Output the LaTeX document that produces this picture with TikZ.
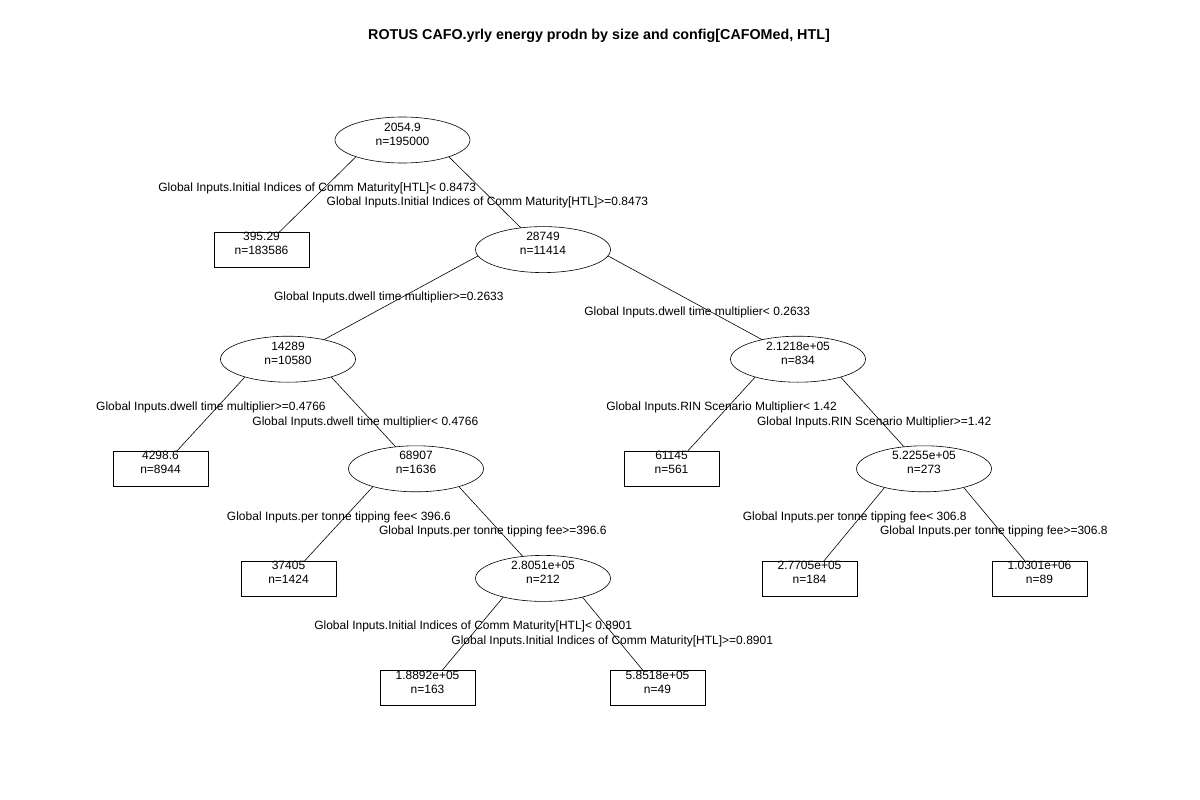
\documentclass[tikz,border=0pt]{standalone}
\usepackage{fontspec}
\setmainfont{Liberation Sans}
\usetikzlibrary{shapes.geometric,backgrounds,intersections}
\tikzset{
  ell/.style={draw, ellipse, minimum width=135pt, minimum height=46pt, inner sep=0pt, fill=white, line width=0.6pt},
  leaf/.style={draw, rectangle, minimum width=95pt, minimum height=35pt, inner sep=0pt, fill=white, line width=0.6pt},
  txt/.style={anchor=base, inner sep=0pt, font=\fontsize{12}{14}\selectfont},
  edge/.style={draw, line width=0.6pt},
  lblup/.style={anchor=base, inner sep=0pt, yshift=3.5pt, font=\fontsize{12}{14}\selectfont},
  lbldn/.style={anchor=base, inner sep=0pt, yshift=-11pt, font=\fontsize{12}{14}\selectfont},
}
\newcommand{\twol}[2]{\begin{tabular}[t]{@{}c@{}}#1\\#2\end{tabular}}
% parent, child, label text, label style
\newcommand{\treeedge}[4]{%
  \path[name path=ln] ([yshift=29pt]#1.center) -- (#2.center) node[pos=0.6046, #4] {#3};
  \draw[edge, name intersections={of=ln and P#1, sort by=ln, name=ix}] (ix-2) -- (#2.center);
}
\begin{document}
\begin{tikzpicture}[x=1pt, y=-1pt]
\useasboundingbox (0,0) rectangle (1200,800);
\node[anchor=base, inner sep=0pt, font=\fontsize{14.3}{16}\selectfont\bfseries] (title) at (599,39.5) {ROTUS CAFO.yrly energy prodn by size and config[CAFOMed, HTL]};

\node[ell, name path=Pn1]  (n1)  at (402.5,140) {};
\node[leaf] (n2)  at (261.5,249.6) {};
\node[ell, name path=Pn3]  (n3)  at (543,249.6) {};
\node[ell, name path=Pn4]  (n4)  at (288,359.2) {};
\node[ell, name path=Pn5]  (n5)  at (798,359.2) {};
\node[leaf] (n6)  at (160.5,468.8) {};
\node[ell, name path=Pn7]  (n7)  at (416,468.8) {};
\node[leaf] (n8)  at (671.5,468.8) {};
\node[ell, name path=Pn9]  (n9)  at (924,468.8) {};
\node[leaf] (n10) at (288.5,578.4) {};
\node[ell, name path=Pn11] (n11) at (543,578.4) {};
\node[leaf] (n12) at (809.5,578.4) {};
\node[leaf] (n13) at (1039.5,578.4) {};
\node[leaf] (n14) at (427.5,688) {};
\node[leaf] (n15) at (657.5,688) {};

\node[txt] (t1)  at ([yshift=9pt]n1.center)  {\twol{2054.9}{n=195000}};
\node[txt] (t2)  at ([yshift=9pt]n2.center)  {\twol{395.29}{n=183586}};
\node[txt] (t3)  at ([yshift=9pt]n3.center)  {\twol{28749}{n=11414}};
\node[txt] (t4)  at ([yshift=9pt]n4.center)  {\twol{14289}{n=10580}};
\node[txt] (t5)  at ([yshift=9pt]n5.center)  {\twol{2.1218e+05}{n=834}};
\node[txt] (t6)  at ([yshift=9pt]n6.center)  {\twol{4298.6}{n=8944}};
\node[txt] (t7)  at ([yshift=9pt]n7.center)  {\twol{68907}{n=1636}};
\node[txt] (t8)  at ([yshift=9pt]n8.center)  {\twol{61145}{n=561}};
\node[txt] (t9)  at ([yshift=9pt]n9.center)  {\twol{5.2255e+05}{n=273}};
\node[txt] (t10) at ([yshift=9pt]n10.center) {\twol{37405}{n=1424}};
\node[txt] (t11) at ([yshift=9pt]n11.center) {\twol{2.8051e+05}{n=212}};
\node[txt] (t12) at ([yshift=9pt]n12.center) {\twol{2.7705e+05}{n=184}};
\node[txt] (t13) at ([yshift=9pt]n13.center) {\twol{1.0301e+06}{n=89}};
\node[txt] (t14) at ([yshift=9pt]n14.center) {\twol{1.8892e+05}{n=163}};
\node[txt] (t15) at ([yshift=9pt]n15.center) {\twol{5.8518e+05}{n=49}};

\begin{pgfonlayer}{background}
\treeedge{n1}{n2}{Global Inputs.Initial Indices of Comm Maturity[HTL]< 0.8473}{lblup}
\treeedge{n1}{n3}{Global Inputs.Initial Indices of Comm Maturity[HTL]>=0.8473}{lbldn}
\treeedge{n3}{n4}{Global Inputs.dwell time multiplier>=0.2633}{lblup}
\treeedge{n3}{n5}{Global Inputs.dwell time multiplier< 0.2633}{lbldn}
\treeedge{n4}{n6}{Global Inputs.dwell time multiplier>=0.4766}{lblup}
\treeedge{n4}{n7}{Global Inputs.dwell time multiplier< 0.4766}{lbldn}
\treeedge{n5}{n8}{Global Inputs.RIN Scenario Multiplier< 1.42}{lblup}
\treeedge{n5}{n9}{Global Inputs.RIN Scenario Multiplier>=1.42}{lbldn}
\treeedge{n7}{n10}{Global Inputs.per tonne tipping fee< 396.6}{lblup}
\treeedge{n7}{n11}{Global Inputs.per tonne tipping fee>=396.6}{lbldn}
\treeedge{n9}{n12}{Global Inputs.per tonne tipping fee< 306.8}{lblup}
\treeedge{n9}{n13}{Global Inputs.per tonne tipping fee>=306.8}{lbldn}
\treeedge{n11}{n14}{Global Inputs.Initial Indices of Comm Maturity[HTL]< 0.8901}{lblup}
\treeedge{n11}{n15}{Global Inputs.Initial Indices of Comm Maturity[HTL]>=0.8901}{lbldn}
\end{pgfonlayer}
\end{tikzpicture}
\end{document}
